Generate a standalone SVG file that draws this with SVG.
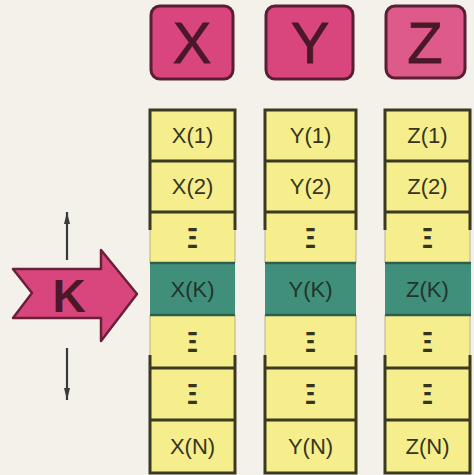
<svg xmlns="http://www.w3.org/2000/svg" width="474" height="475" viewBox="0 0 474 475">
<style>
.hdr{fill:#d9467e;stroke:#5b1f33;stroke-width:3}
.hl{font-family:"Liberation Sans",Arial,sans-serif;font-size:58px;fill:#4a1828;text-anchor:middle;stroke:#4a1828;stroke-width:0.8}
.cell{fill:#f6ee8c}
.kcell{fill:#3f8f7a}
.t{font-family:"Liberation Sans",Arial,sans-serif;font-size:22px;fill:#35351f;text-anchor:middle}
.kt{fill:#24332c}
.b{stroke:#3a3a20;stroke-width:3;fill:none}
.fb{stroke:#9a9870;stroke-width:2;fill:none;opacity:0.35}
.kb{stroke:#2c5f4f;stroke-width:2.5}
.dots{font-family:"Liberation Sans",Arial,sans-serif;font-size:29px;font-weight:bold;fill:#35351f;text-anchor:middle}
</style>
<defs>
<marker id="ah" viewBox="0 0 12 6" refX="12" refY="3" markerWidth="12" markerHeight="6" markerUnits="userSpaceOnUse" orient="auto">
<path d="M0,0 L12,3 L0,6 Z" fill="#3a3a3a"/>
</marker>
</defs>
<rect width="474" height="475" fill="#f3f1ea"/>

<g id="hX"><rect class="hdr" x="151" y="6" width="82" height="73" rx="9"/><text class="hl" x="192" y="63">X</text></g>
<g id="hY"><rect class="hdr" x="266" y="6" width="87" height="73" rx="9"/><text class="hl" x="310" y="63">Y</text></g>
<g id="hZ"><rect class="hdr" x="386" y="6" width="79" height="72" rx="9" style="fill:#dd5a8a"/><text class="hl" x="425" y="63">Z</text></g>

<g id="colX">
<rect class="cell" x="150" y="110" width="85" height="363"/>
<rect class="kcell" x="150" y="263" width="85" height="52"/>
<path class="b" d="M150,230 V110 H235 V230 M150,355 V473 H235 V355 M150,161 H235 M150,212 H235 M150,368 H235 M150,420 H235"/>
<path class="fb" d="M150,230 V263 M235,230 V263 M150,315 V355 M235,315 V355"/>
<path class="kb" d="M150,263 H235 M150,315 H235"/>
<text class="t" x="192.5" y="143">X(1)</text>
<text class="t" x="192.5" y="194">X(2)</text>
<text class="dots" x="192.5" y="248" textLength="10" lengthAdjust="spacingAndGlyphs">Ξ</text>
<text class="t kt" x="192.5" y="297">X(K)</text>
<text class="dots" x="192.5" y="352" textLength="10" lengthAdjust="spacingAndGlyphs">Ξ</text>
<text class="dots" x="192.5" y="404" textLength="10" lengthAdjust="spacingAndGlyphs">Ξ</text>
<text class="t" x="192.5" y="454">X(N)</text>
</g>

<g id="colY">
<rect class="cell" x="265" y="110" width="91" height="363"/>
<rect class="kcell" x="265" y="263" width="91" height="52"/>
<path class="b" d="M265,230 V110 H356 V230 M265,355 V473 H356 V355 M265,161 H356 M265,212 H356 M265,368 H356 M265,420 H356"/>
<path class="fb" d="M265,230 V263 M356,230 V263 M265,315 V355 M356,315 V355"/>
<path class="kb" d="M265,263 H356 M265,315 H356"/>
<text class="t" x="310.5" y="143">Y(1)</text>
<text class="t" x="310.5" y="194">Y(2)</text>
<text class="dots" x="310.5" y="248" textLength="10" lengthAdjust="spacingAndGlyphs">Ξ</text>
<text class="t kt" x="310.5" y="297">Y(K)</text>
<text class="dots" x="310.5" y="352" textLength="10" lengthAdjust="spacingAndGlyphs">Ξ</text>
<text class="dots" x="310.5" y="404" textLength="10" lengthAdjust="spacingAndGlyphs">Ξ</text>
<text class="t" x="310.5" y="454">Y(N)</text>
</g>

<g id="colZ">
<rect class="cell" x="385" y="110" width="85" height="363"/>
<rect class="kcell" x="385" y="263" width="86" height="52"/>
<path class="b" d="M385,230 V110 H470 V230 M385,355 V473 H470 V355 M385,161 H470 M385,212 H470 M385,368 H470 M385,420 H470"/>
<path class="fb" d="M385,230 V263 M470,230 V263 M385,315 V355 M470,315 V355"/>
<path class="kb" d="M385,263 H471 M385,315 H471"/>
<text class="t" x="427.5" y="143">Z(1)</text>
<text class="t" x="427.5" y="194">Z(2)</text>
<text class="dots" x="427.5" y="248" textLength="10" lengthAdjust="spacingAndGlyphs">Ξ</text>
<text class="t kt" x="427.5" y="297">Z(K)</text>
<text class="dots" x="427.5" y="352" textLength="10" lengthAdjust="spacingAndGlyphs">Ξ</text>
<text class="dots" x="427.5" y="404" textLength="10" lengthAdjust="spacingAndGlyphs">Ξ</text>
<text class="t" x="427.5" y="454">Z(N)</text>
</g>

<g id="K">
<path d="M13,269 L101,269 L101,250 L137,294 L101,341 L101,318 L13,318 L32,293 Z" fill="#d9467e" stroke="#6a2038" stroke-width="2.5" stroke-linejoin="round"/>
<text x="69" y="312" font-family="Liberation Sans,Arial,sans-serif" font-size="46" font-weight="bold" fill="#4a1828" text-anchor="middle">K</text>
</g>

<g id="connectors" stroke="#3a3a3a" stroke-width="2.2">
<line x1="67" y1="260" x2="67" y2="212" marker-end="url(#ah)"/>
<line x1="67" y1="348" x2="67" y2="400" marker-end="url(#ah)"/>
</g>
</svg>
